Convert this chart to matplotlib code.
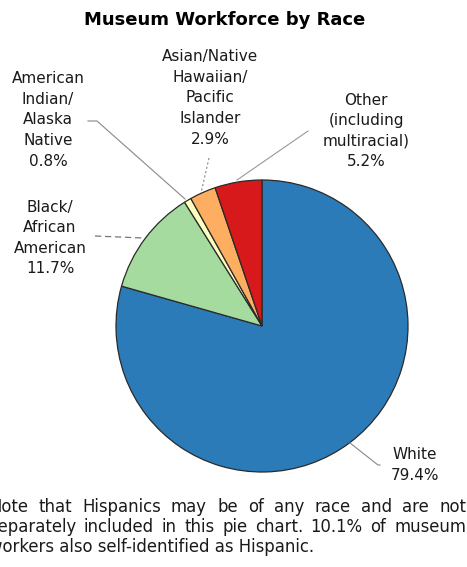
import matplotlib
matplotlib.use('Agg')
import matplotlib.pyplot as plt

# Dati del grafico
labels = ['White', 'Black/\nAfrican\nAmerican', 'American\nIndian/\nAlaska\nNative',
          'Asian/Native\nHawaiian/\nPacific\nIslander', 'Other\n(including\nmultiracial)']
shares = [79.4, 11.7, 0.8, 2.9, 5.2]
colors = ['#2b7bb9', '#a6dba0', '#ffffbf', '#fdae61', '#d7191c']
title = 'Museum Workforce by Race'
note_lines = ['Note that Hispanics may be of any race and are not',
              'separately included in this pie chart. 10.1% of museum',
              'workers also self-identified as Hispanic.']

W, H = 467, 567
plt.rcParams['font.family'] = 'DejaVu Sans'

fig = plt.figure(figsize=(W / 100, H / 100), dpi=100)
ax = fig.add_axes([0, 0, 1, 1])


def py(y):
    # converte la coordinata verticale in pixel (dall'alto) in coordinate dati
    return H - y


# Torta
cx, cy, r = 262, 326, 146
ax.pie(shares, colors=colors, startangle=90, counterclock=False,
       center=(cx, py(cy)), radius=r, frame=True,
       wedgeprops=dict(edgecolor='#2a2a2a', linewidth=0.9))
ax.set_xlim(0, W)
ax.set_ylim(0, H)
ax.set_aspect('equal')
ax.axis('off')

# Titolo
ax.text(225, py(20), title, ha='center', va='center', fontsize=13, fontweight='bold')

# Etichette con percentuali
label_pos = [(415, 465), (50, 238), (48, 120), (210, 98), (366, 131)]
for lab, val, (x, y) in zip(labels, shares, label_pos):
    ax.text(x, py(y), f'{lab}\n{val:.1f}%', ha='center', va='center',
            multialignment='center', fontsize=11, linespacing=1.47, color='#1a1a1a')

# Linee guida
ax.plot([380, 378, 350], [py(465), py(465), py(443)], color='#888888', lw=0.8)
ax.plot([95, 143], [py(236), py(238)], color='#777777', lw=0.9, ls=(0, (5, 3)))
ax.plot([88, 97, 185], [py(121), py(121), py(199)], color='#888888', lw=0.8)
ax.plot([209, 201], [py(158), py(193)], color='#888888', lw=0.8, ls=(0, (2, 2)))
ax.plot([308, 237], [py(131), py(180)], color='#999999', lw=0.8)

# Nota in fondo, giustificata
fig.canvas.draw()
renderer = fig.canvas.get_renderer()
x_left, x_right = -11, 466
note_y = [507, 527, 547]
for i, (line, y) in enumerate(zip(note_lines, note_y)):
    words = line.split(' ')
    if i == len(note_lines) - 1:
        ax.text(x_left, py(y), line, ha='left', va='center', fontsize=11.9, color='#1a1a1a')
        continue
    texts = [ax.text(0, py(y), w, ha='left', va='center', fontsize=11.9, color='#1a1a1a')
             for w in words]
    widths = [t.get_window_extent(renderer).width for t in texts]
    gap = (x_right - x_left - sum(widths)) / (len(words) - 1)
    x = x_left
    for t, wdt in zip(texts, widths):
        t.set_x(x)
        x += wdt + gap

fig.savefig('out.png', dpi=100)
